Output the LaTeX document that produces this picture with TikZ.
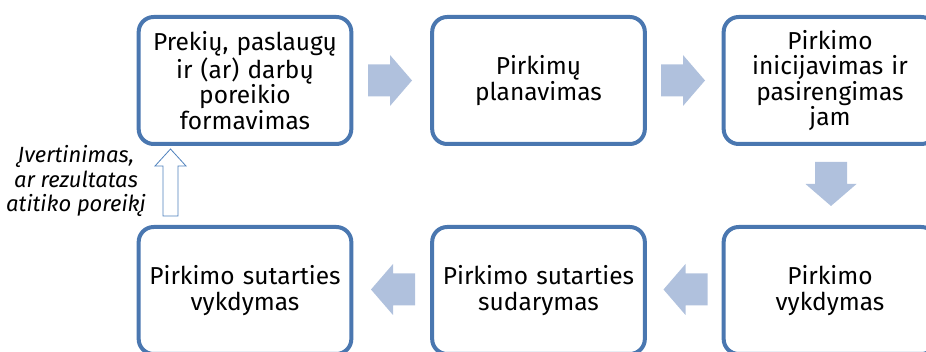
\documentclass[tikz,border=0pt]{standalone}
\usepackage{fontspec}
\setmainfont{Fira Sans}
\definecolor{boxblue}{HTML}{4A77B0}
\definecolor{arrowfill}{HTML}{B0C1DD}
\definecolor{outlineblue}{HTML}{4F81BD}

\tikzset{
    pics/flowarrow/.style={code={
        \fill [arrowfill] (-22, -16) -- (0, -16) -- (0, -25.5) -- (22, 0)
            -- (0, 25.5) -- (0, 16) -- (-22, 16) -- cycle;
    }},
    pics/backarrow/.style={code={
        \draw [outlineblue, line width=0.8pt, fill=white] (-33.5, -7.5) -- (16.5, -7.5)
            -- (16.5, -15.5) -- (33.5, 0) -- (16.5, 15.5) -- (16.5, 7.5)
            -- (-33.5, 7.5) -- cycle;
    }}
}

\begin{document}
\begin{tikzpicture}[x=1pt, y=-1pt,
    stage/.style={draw=boxblue, line width=4pt, rounded corners=15pt,
        minimum width=210pt, minimum height=127pt, text width=206pt,
        align=center, font=\fontsize{24.5}{25.5}\selectfont}]
    \useasboundingbox (0, 0) rectangle (926, 352);
    % top row
    \node [stage] (need) at (245, 80.5) {Prekių, paslaugų\\ir (ar) darbų\\poreikio\\formavimas};
    \node [stage] (plan) at (538.5, 80.5) {Pirkimų\\planavimas};
    \node [stage] (init) at (830, 80.5) {Pirkimo\\inicijavimas ir\\pasirengimas\\jam};
    % bottom row
    \node [stage] (exec) at (830, 290.5) {Pirkimo\\vykdymas};
    \node [stage] (sign) at (538.5, 290.5) {Pirkimo sutarties\\sudarymas};
    \node [stage] (perf) at (245, 290.5) {Pirkimo sutarties\\vykdymas};
    % flow arrows
    \pic at (390, 80.5) {flowarrow};
    \pic at (683, 80.5) {flowarrow};
    \pic [rotate=-90] at (831, 184) {flowarrow};
    \pic [rotate=180] at (685.5, 289.5) {flowarrow};
    \pic [rotate=180] at (393, 289.5) {flowarrow};
    % feedback
    \pic [rotate=90] at (170.5, 182.5) {backarrow};
    \node [align=center, font=\itshape\fontsize{22}{24.5}\selectfont] (check) at (76, 181)
        {Įvertinimas,\\ar rezultatas\\atitiko poreikį};
\end{tikzpicture}
\end{document}
